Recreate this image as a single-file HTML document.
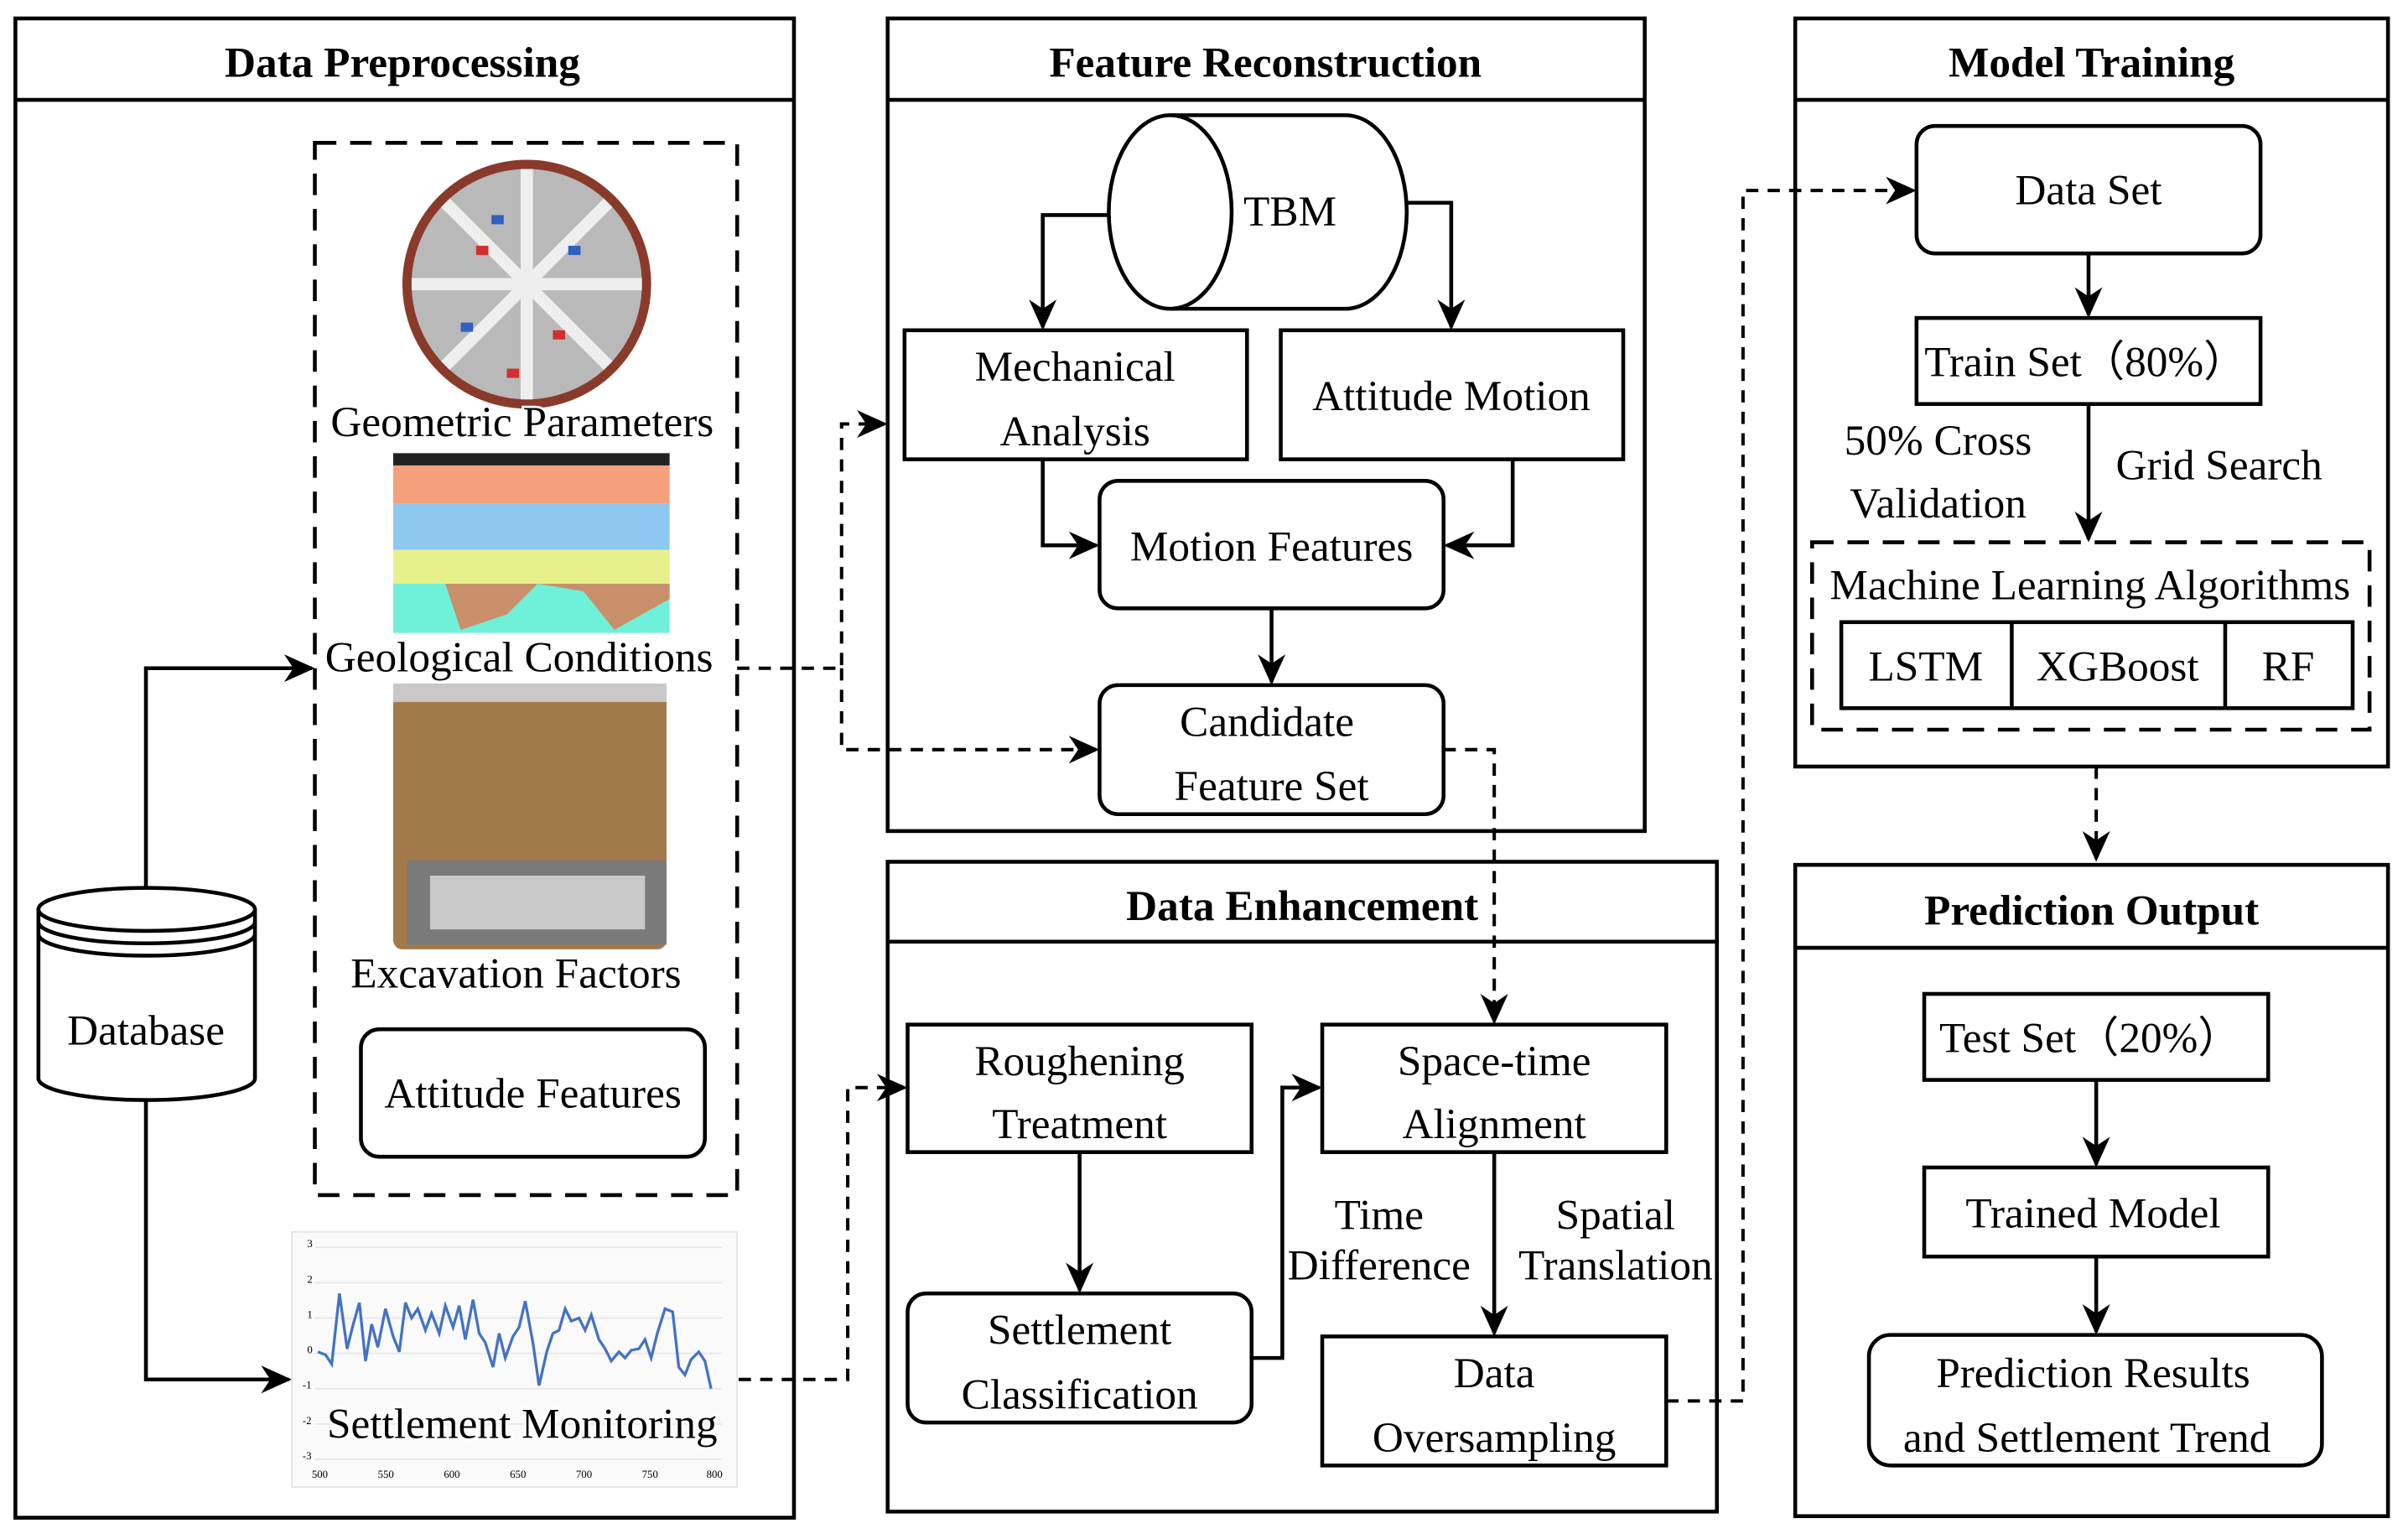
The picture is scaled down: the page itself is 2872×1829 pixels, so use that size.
<!DOCTYPE html>
<html><head><meta charset="utf-8"><style>
html,body{margin:0;padding:0;background:#fff;}
svg{display:block;}
text{font-family:"Liberation Serif",serif;fill:#000;}
.t{font-size:28px;font-weight:bold;text-anchor:middle;}
.b{font-size:28px;text-anchor:middle;}
</style></head><body>
<svg width="2872" height="1829" viewBox="0 0 1568 998.6" xmlns="http://www.w3.org/2000/svg">
<defs>
<marker id="A" markerWidth="20" markerHeight="20" refX="18" refY="10" orient="auto" markerUnits="userSpaceOnUse" viewBox="0 0 20 20">
<path d="M0,1 L20,10 L0,19 L6,10 z" fill="#000"/></marker>
</defs>
<g fill="none" stroke="#000" stroke-width="2.5">
<rect x="10" y="12" width="507" height="976"/><line x1="10" y1="65" x2="517" y2="65"/>
<rect x="578" y="12" width="493" height="529"/><line x1="578" y1="65" x2="1071" y2="65"/>
<rect x="578" y="561" width="540" height="423"/><line x1="578" y1="613" x2="1118" y2="613"/>
<rect x="1169" y="12" width="386" height="487"/><line x1="1169" y1="65" x2="1555" y2="65"/>
<rect x="1169" y="563" width="386" height="424"/><line x1="1169" y1="617" x2="1555" y2="617"/>
<rect x="205" y="93" width="275" height="685" stroke-dasharray="14,9"/>
<rect x="1180" y="353" width="363" height="122" stroke-dasharray="14,9"/>
<rect x="235" y="670" width="224" height="83" rx="12"/>
<rect x="589" y="215" width="223" height="84"/>
<rect x="834" y="215" width="223" height="84"/>
<rect x="716" y="313" width="224" height="83" rx="12"/>
<rect x="716" y="446" width="224" height="84" rx="12"/>
<rect x="591" y="667" width="224" height="83"/>
<rect x="591" y="842" width="224" height="84" rx="12"/>
<rect x="861" y="667" width="224" height="83"/>
<rect x="861" y="870" width="224" height="84"/>
<rect x="1248" y="82" width="224" height="83" rx="12"/>
<rect x="1248" y="207" width="224" height="56"/>
<rect x="1199" y="405" width="333" height="56"/>
<line x1="1310" y1="405" x2="1310" y2="461"/><line x1="1449" y1="405" x2="1449" y2="461"/>
<rect x="1253" y="647" width="224" height="56"/>
<rect x="1253" y="760" width="224" height="58"/>
<rect x="1217" y="869" width="295" height="85" rx="14"/>
<path d="M762,75 L876,75 A40,63 0 0 1 876,201 L762,201"/>
<ellipse cx="762" cy="138" rx="40" ry="63" fill="#fff"/>
<path d="M25,592 L25,702 A70,14 0 0 0 166,702 L166,592"/>
<ellipse cx="95.5" cy="592" rx="70.5" ry="14" fill="#fff"/>
<path d="M25,600 A70,14 0 0 0 166,600 M25,608 A70,14 0 0 0 166,608"/>
<polyline points="95,578 95,435 203,435" marker-end="url(#A)"/>
<polyline points="95,716 95,898 188,898" marker-end="url(#A)"/>
<polyline points="722,140 679,140 679,213" marker-end="url(#A)"/>
<polyline points="916,132 945,132 945,213" marker-end="url(#A)"/>
<polyline points="679,299 679,355 714,355" marker-end="url(#A)"/>
<polyline points="985,299 985,355 942,355" marker-end="url(#A)"/>
<line x1="828" y1="396" x2="828" y2="444" marker-end="url(#A)"/>
<line x1="703" y1="750" x2="703" y2="840" marker-end="url(#A)"/>
<polyline points="815,884 835,884 835,708 859,708" marker-end="url(#A)"/>
<line x1="973" y1="750" x2="973" y2="868" marker-end="url(#A)"/>
<line x1="1360" y1="165" x2="1360" y2="205" marker-end="url(#A)"/>
<line x1="1360" y1="263" x2="1360" y2="351" marker-end="url(#A)"/>
<line x1="1365" y1="703" x2="1365" y2="758" marker-end="url(#A)"/>
<line x1="1365" y1="818" x2="1365" y2="867" marker-end="url(#A)"/>
<g stroke-dasharray="8,6" stroke-width="2.2">
<polyline points="480,435 548,435 548,276 576,276" marker-end="url(#A)"/>
<polyline points="548,435 548,488 714,488" marker-end="url(#A)"/>
<polyline points="467,898 552,898 552,708 589,708" marker-end="url(#A)"/>
<polyline points="940,488 973,488 973,665" marker-end="url(#A)"/>
<polyline points="1085,912 1135,912 1135,124 1246,124" marker-end="url(#A)"/>
<line x1="1365" y1="499" x2="1365" y2="559" marker-end="url(#A)"/>
</g>
</g>
<circle cx="343" cy="185" r="80" fill="#b9b9b9"/>
<circle cx="343" cy="185" r="78" fill="none" stroke="#8a3a2a" stroke-width="6"/>
<g stroke="#eee" stroke-width="8">
<line x1="343" y1="110" x2="343" y2="260"/><line x1="268" y1="185" x2="418" y2="185"/>
<line x1="290" y1="132" x2="396" y2="238"/><line x1="396" y1="132" x2="290" y2="238"/></g>
<g fill="#3060c0"><rect x="320" y="140" width="8" height="6"/><rect x="370" y="160" width="8" height="6"/><rect x="300" y="210" width="8" height="6"/></g>
<g fill="#d03030"><rect x="360" y="215" width="8" height="6"/><rect x="310" y="160" width="8" height="6"/><rect x="330" y="240" width="8" height="6"/></g>
<rect x="256" y="295" width="180" height="8" fill="#222"/>
<rect x="256" y="303" width="180" height="25" fill="#f4a07c"/>
<rect x="256" y="328" width="180" height="30" fill="#8cc8f0"/>
<rect x="256" y="358" width="180" height="22" fill="#e8f08c"/>
<rect x="256" y="380" width="180" height="32" fill="#6ff0d8"/>
<path d="M256,380 L290,380 L300,410 L330,400 L350,380 L380,385 L400,410 L436,390 L436,380 Z" fill="#c8906a"/>
<rect x="256" y="445" width="178" height="173" rx="6" fill="#a27a4a"/>
<rect x="256" y="445" width="178" height="12" fill="#c8c8c8"/>
<rect x="265" y="560" width="169" height="55" fill="#7a7a7a"/>
<rect x="280" y="570" width="140" height="35" fill="#c8c8c8"/>
<rect x="190" y="802" width="290" height="166" fill="#fafafa" stroke="#e4e4e4"/>
<g stroke="#e6e6e6"><line x1="205" y1="812" x2="470" y2="812"/><line x1="205" y1="835" x2="470" y2="835"/><line x1="205" y1="858" x2="470" y2="858"/><line x1="205" y1="881" x2="470" y2="881"/><line x1="205" y1="904" x2="470" y2="904"/><line x1="205" y1="927" x2="470" y2="927"/><line x1="205" y1="950" x2="470" y2="950"/></g>
<polyline fill="none" stroke="#4472c4" stroke-width="1.8" points="207,880 212,882 216,888 221,842 226,878 230,862 234,848 238,886 242,862 246,877 251,852 256,870 260,880 264,848 268,858 272,852 277,866 281,855 286,868 290,850 295,864 299,850 303,872 308,846 312,868 316,874 321,890 325,868 329,884 334,870 338,864 342,847 347,874 351,902 356,880 360,868 364,866 368,852 372,860 377,858 381,866 385,856 390,872 394,878 398,886 403,880 407,884 411,879 416,878 420,872 424,884 428,868 433,852 438,854 442,890 446,895 450,885 455,880 459,886 463,904"/>
<g font-size="7" fill="#666"><text x="200" y="812">3</text><text x="200" y="835">2</text><text x="200" y="858">1</text><text x="200" y="881">0</text><text x="197" y="904">-1</text><text x="197" y="927">-2</text><text x="197" y="950">-3</text>
<text x="203" y="962">500</text><text x="246" y="962">550</text><text x="289" y="962">600</text><text x="332" y="962">650</text><text x="375" y="962">700</text><text x="418" y="962">750</text><text x="460" y="962">800</text></g>
<text class="t" x="262" y="50">Data Preprocessing</text>
<text class="t" x="824" y="50">Feature Reconstruction</text>
<text class="t" x="848" y="599">Data Enhancement</text>
<text class="t" x="1362" y="50">Model Training</text>
<text class="t" x="1362" y="602">Prediction Output</text>
<text class="b" x="340" y="284" style="paint-order:stroke;stroke:#fff;stroke-width:3px">Geometric Parameters</text>
<text class="b" x="338" y="437" style="paint-order:stroke;stroke:#fff;stroke-width:3px">Geological Conditions</text>
<text class="b" x="336" y="643">Excavation Factors</text>
<text class="b" x="347" y="721">Attitude Features</text>
<text class="b" x="95" y="680">Database</text>
<text class="b" x="340" y="936" style="paint-order:stroke;stroke:#fff;stroke-width:3px">Settlement Monitoring</text>
<text class="b" x="840" y="147">TBM</text>
<text class="b" x="700" y="248">Mechanical</text><text class="b" x="700" y="290">Analysis</text>
<text class="b" x="945" y="267">Attitude Motion</text>
<text class="b" x="828" y="365">Motion Features</text>
<text class="b" x="825" y="479">Candidate</text><text class="b" x="828" y="521">Feature Set</text>
<text class="b" x="703" y="700">Roughening</text><text class="b" x="703" y="741">Treatment</text>
<text class="b" x="703" y="875">Settlement</text><text class="b" x="703" y="917">Classification</text>
<text class="b" x="973" y="700">Space-time</text><text class="b" x="973" y="741">Alignment</text>
<text class="b" x="898" y="800">Time</text><text class="b" x="898" y="833">Difference</text>
<text class="b" x="1052" y="800">Spatial</text><text class="b" x="1052" y="833">Translation</text>
<text class="b" x="973" y="903">Data</text><text class="b" x="973" y="945">Oversampling</text>
<text class="b" x="1360" y="133">Data Set</text>
<text class="b" x="1358" y="245">Train Set（80%）</text>
<text class="b" x="1262" y="296">50% Cross</text><text class="b" x="1262" y="337">Validation</text>
<text class="b" x="1445" y="312">Grid Search</text>
<text class="b" x="1361" y="390">Machine Learning Algorithms</text>
<text class="b" x="1254" y="443">LSTM</text><text class="b" x="1379" y="443">XGBoost</text><text class="b" x="1490" y="443">RF</text>
<text class="b" x="1361" y="685">Test Set（20%）</text>
<text class="b" x="1363" y="799">Trained Model</text>
<text class="b" x="1363" y="903">Prediction Results</text><text class="b" x="1359" y="945">and Settlement Trend</text>
</svg>
</body></html>
